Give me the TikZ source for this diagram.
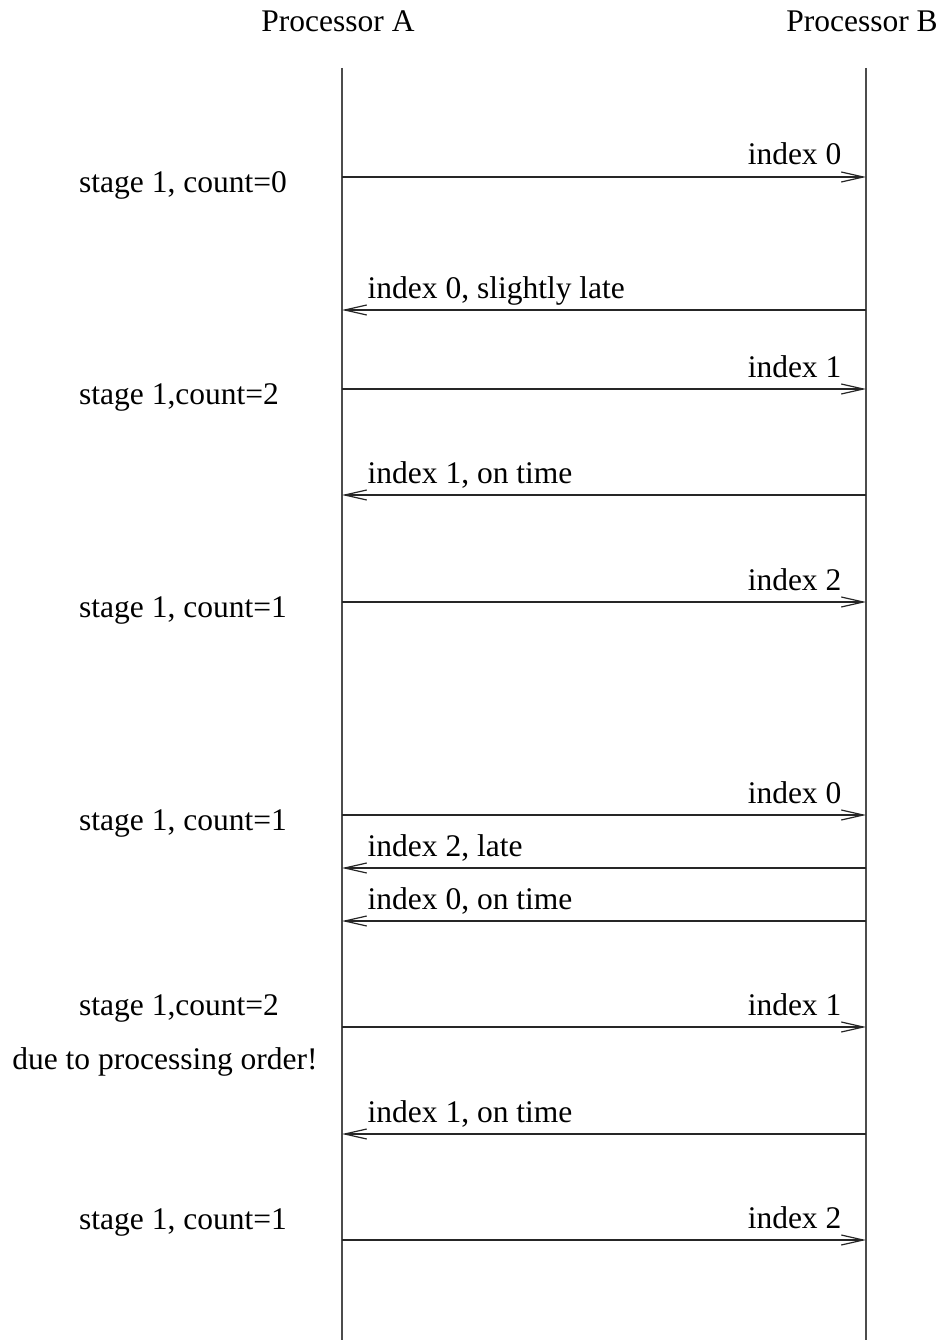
\documentclass[tikz,border=0pt]{standalone}
\usepackage{fontspec}
\setmainfont{Liberation Serif}
\usepackage{tikz}
\usetikzlibrary{arrows.meta,positioning}

\begin{document}
\begin{tikzpicture}
  [x=1pt,y=-1pt,
  every node/.style={font=\fontsize{31.5}{37}\selectfont,inner sep=0pt},
  lifeline/.style={draw=black!70,line width=1.6pt},
  msg/.style={draw=black!85,line width=1.3pt,-{Straight Barb[length=22pt,width=10pt,line width=1.2pt]}},
  tolabel/.style={pos=1,anchor=base east,xshift=-24pt,yshift=12pt},
  fromlabel/.style={pos=1,anchor=base west,xshift=25pt,yshift=12pt},
  stagelabel/.style={anchor=base west}
  ]
  \useasboundingbox (0,0) rectangle (943,1340);

  % processors and their time lines
  \node[anchor=base] (procA) at (338,32) {Processor A};
  \node[anchor=base] (procB) at (862,32) {Processor B};
  \coordinate (atop) at (342,68);
  \coordinate (abot) at (342,1340);
  \coordinate (btop) at (866,68);
  \coordinate (bbot) at (866,1340);
  \draw[lifeline] (atop) -- (abot);
  \draw[lifeline] (btop) -- (bbot);

  % message end points on both lines
  \foreach \i/\t in {1/177,2/310,3/389,4/495,5/602,6/815,7/868,8/921,9/1027,10/1134,11/1240} {
    \coordinate (a\i) at (342,\t);
    \coordinate (b\i) at (866,\t);
  }

  \draw[msg] (a1) -- (b1) node[tolabel] {index 0};
  \draw[msg] (b2) -- (a2) node[fromlabel] {index 0, slightly late};
  \draw[msg] (a3) -- (b3) node[tolabel] {index 1};
  \draw[msg] (b4) -- (a4) node[fromlabel] {index 1, on time};
  \draw[msg] (a5) -- (b5) node[tolabel] {index 2};

  \draw[msg] (a6) -- (b6) node[tolabel] {index 0};
  \draw[msg] (b7) -- (a7) node[fromlabel] {index 2, late};
  \draw[msg] (b8) -- (a8) node[fromlabel] {index 0, on time};
  \draw[msg] (a9) -- (b9) node[tolabel] {index 1};
  \draw[msg] (b10) -- (a10) node[fromlabel] {index 1, on time};
  \draw[msg] (a11) -- (b11) node[tolabel] {index 2};

  % state of processor A
  \node[stagelabel] (st1) at (79,193) {stage 1, count=0};
  \node[stagelabel] (st2) at (79,404) {stage 1,count=2};
  \node[stagelabel] (st3) at (79,617) {stage 1, count=1};
  \node[stagelabel] (st4) at (79,830) {stage 1, count=1};
  \node[stagelabel] (st5) at (79,1015) {stage 1,count=2};
  \node[anchor=base] (why) at (165,1069) {due to processing order!};
  \node[stagelabel] (st6) at (79,1229) {stage 1, count=1};
\end{tikzpicture}
\end{document}
